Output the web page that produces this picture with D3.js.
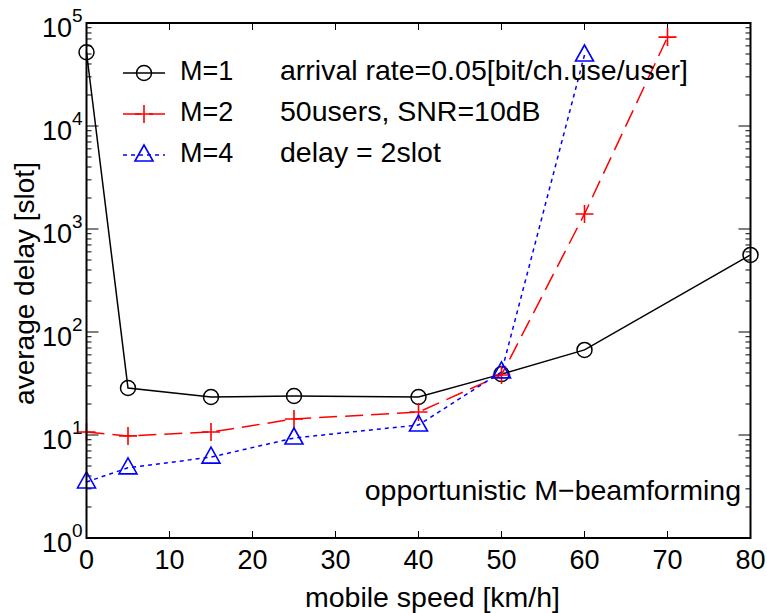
<!DOCTYPE html>
<html><head><meta charset="utf-8">
<script src="https://cdn.jsdelivr.net/npm/d3@7"></script>
<style>body{margin:0;background:#fff}svg{display:block}text{font-family:"Liberation Sans",Arial,sans-serif;fill:#000}</style>
</head><body><svg id="c" width="767" height="613"></svg>
<script>
const speeds1 = [0, 5, 15, 25, 40, 50, 60, 80];
const delayM1 = [52000, 28.6, 23.4, 23.9, 23.4, 39, 67, 560];
const speeds2 = [0, 5, 15, 25, 40, 50, 60, 70];
const delayM2 = [10.7, 9.8, 10.7, 14.3, 16.7, 38.3, 1400, 73000];
const speeds4 = [0, 5, 15, 25, 40, 50, 60];
const delayM4 = [3.5, 4.8, 6.1, 9.35, 12.5, 41, 48900];
const xTicks = [0, 10, 20, 30, 40, 50, 60, 70, 80];
const yExps = [0, 1, 2, 3, 4, 5];
const legendNames = ["M=1", "M=2", "M=4"];
const legendNotes = ["arrival rate=0.05[bit/ch.use/user]", "50users, SNR=10dB", "delay = 2slot"];

const L = 86.5, R = 750.5, T = 23, B = 538;
const svg = d3.select("#c");
const x = d3.scaleLinear().domain([0, 80]).range([L, R]);
const y = d3.scaleLog().domain([1, 1e5]).range([B, T]);

// ticks
const g = svg.append("g").attr("stroke", "#000").attr("stroke-width", 1);
xTicks.forEach(v => {
  g.append("line").attr("x1", x(v)).attr("x2", x(v)).attr("y1", B).attr("y2", B - 7);
  g.append("line").attr("x1", x(v)).attr("x2", x(v)).attr("y1", T).attr("y2", T + 7);
});
yExps.forEach(e => {
  const base = Math.pow(10, e);
  g.append("line").attr("x1", L).attr("x2", L + 12).attr("y1", y(base)).attr("y2", y(base));
  g.append("line").attr("x1", R).attr("x2", R - 12).attr("y1", y(base)).attr("y2", y(base));
  if (e < 5) for (let k = 2; k <= 9; k++) {
    const v = base * k;
    g.append("line").attr("x1", L).attr("x2", L + 5).attr("y1", y(v)).attr("y2", y(v));
    g.append("line").attr("x1", R).attr("x2", R - 5).attr("y1", y(v)).attr("y2", y(v));
  }
});

// tick labels
xTicks.forEach(v => {
  svg.append("text").attr("x", x(v)).attr("y", B + 31).attr("text-anchor", "middle")
    .attr("font-size", 27).text(v);
});
yExps.forEach(e => {
  const t = svg.append("text").attr("x", L - 4).attr("y", y(Math.pow(10, e)) + 14)
    .attr("text-anchor", "end").attr("font-size", 27);
  t.append("tspan").text("10");
  t.append("tspan").attr("font-size", 19).attr("dy", -15).text(e);
});

// axis labels
svg.append("text").attr("x", (L + R) / 2 + 14).attr("y", 607).attr("text-anchor", "middle")
  .attr("font-size", 28.5).text("mobile speed [km/h]");
svg.append("text").attr("transform", `translate(34,${(T + B) / 2 + 3}) rotate(-90)`)
  .attr("text-anchor", "middle").attr("font-size", 28).text("average delay [slot]");

// series
const series = [
  {xs: speeds1, ys: delayM1, color: "#000", dash: null, marker: "circle"},
  {xs: speeds2, ys: delayM2, color: "#ff0000", dash: "18,8", marker: "plus"},
  {xs: speeds4, ys: delayM4, color: "#0000ff", dash: "4,4", marker: "tri"}
];
const line = d3.line().x(d => x(d[0])).y(d => y(d[1]));
function marker(sel, type, cx, cy, color) {
  if (type === "circle") sel.append("circle").attr("cx", cx).attr("cy", cy).attr("r", 7.5)
    .attr("fill", "none").attr("stroke", color).attr("stroke-width", 1.5);
  else if (type === "plus") sel.append("path")
    .attr("d", `M${cx - 9},${cy}H${cx + 9}M${cx},${cy - 9}V${cy + 9}`)
    .attr("stroke", color).attr("stroke-width", 1.6).attr("fill", "none");
  else sel.append("path")
    .attr("d", `M${cx},${cy - 10}L${cx + 9},${cy + 6}L${cx - 9},${cy + 6}Z`)
    .attr("stroke", color).attr("stroke-width", 1.6).attr("fill", "none");
}
series.forEach(s => {
  const pts = s.xs.map((v, i) => [v, s.ys[i]]);
  svg.append("path").datum(pts).attr("d", line).attr("fill", "none")
    .attr("stroke", s.color).attr("stroke-width", 1.5)
    .attr("stroke-dasharray", s.dash);
  pts.forEach(p => marker(svg, s.marker, x(p[0]), y(p[1]), s.color));
});

// frame
svg.append("rect").attr("x", L).attr("y", T).attr("width", R - L).attr("height", B - T)
  .attr("fill", "none").attr("stroke", "#000").attr("stroke-width", 2);

// legend
series.forEach((s, i) => {
  const ly = 73 + i * 41;
  svg.append("line").attr("x1", 123).attr("x2", 165).attr("y1", ly).attr("y2", ly)
    .attr("stroke", s.color).attr("stroke-width", 1.5).attr("stroke-dasharray", s.dash);
  marker(svg, s.marker, 144, ly, s.color);
  svg.append("text").attr("x", 180).attr("y", ly + 7).attr("font-size", 27).text(legendNames[i]);
  svg.append("text").attr("x", 280).attr("y", ly + 7).attr("font-size", 28.5).text(legendNotes[i]);
});

svg.append("text").attr("x", 741).attr("y", 500).attr("text-anchor", "end")
  .attr("font-size", 28.5).text("opportunistic M\u2212beamforming");
</script></body></html>
